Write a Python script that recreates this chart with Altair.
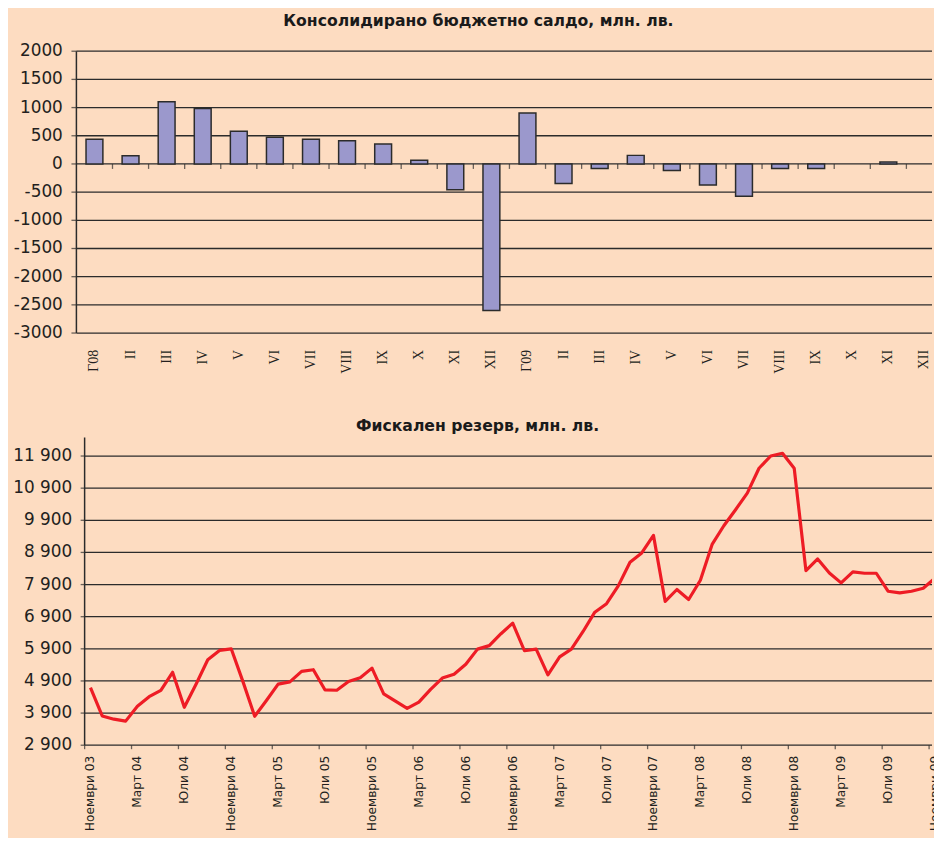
import altair as alt
import pandas as pd

# ---------------- data ----------------
budget_labels = ["Г08", "II", "III", "IV", "V", "VI", "VII", "VIII", "IX", "X", "XI", "XII",
                 "Г09", "II", "III", "IV", "V", "VI", "VII", "VIII", "IX", "X", "XI", "XII"]
budget_values = [440, 147, 1103, 985, 581, 475, 440, 410, 352, 65, -457, -2598,
                 903, -346, -82, 152, -117, -375, -575, -82, -82, None, 35, None]

# monthly fiscal reserve, Nov 2003 ... Nov 2009
reserve_values = [4690, 3810, 3710, 3650, 4110, 4410, 4610, 5170, 4080, 4800, 5560, 5850,
                  5900, 4880, 3800, 4290, 4800, 4870, 5200, 5250, 4620, 4610, 4880, 5000,
                  5300, 4500, 4270, 4045, 4240, 4640, 4990, 5110, 5420, 5890, 6000, 6370,
                  6700, 5840, 5890, 5090, 5650, 5890, 6440, 7040, 7305, 7860, 8594, 8883,
                  9430, 7375, 7746, 7436, 8035, 9150, 9730, 10230, 10744, 11519, 11902, 11985,
                  11519, 8334, 8696, 8262, 7952, 8293, 8252, 8252, 7693, 7641, 7693, 7786,
                  8100]
reserve_tick_labels = ["Ноември 03", "Март 04", "Юли 04", "Ноември 04", "Март 05", "Юли 05",
                       "Ноември 05", "Март 06", "Юли 06", "Ноември 06", "Март 07", "Юли 07",
                       "Ноември 07", "Март 08", "Юли 08", "Ноември 08", "Март 09", "Юли 09",
                       "Ноември 09"]

budget_ticks = [-3000, -2500, -2000, -1500, -1000, -500, 0, 500, 1000, 1500, 2000]
reserve_ticks = [2900, 3900, 4900, 5900, 6900, 7900, 8900, 9900, 10900, 11900]

TITLE_TOP = "Консолидирано бюджетно салдо, млн. лв."
TITLE_BOTTOM = "Фискален резерв, млн. лв."

BG = "#FDDCC1"
INK = "#231f20"
GRID = "#2b2b2b"

# ---------------- tables ----------------
n_b = len(budget_labels)
bars = pd.DataFrame({
    "center": [i + 0.5 for i in range(n_b)],
    "label": budget_labels,
    "value": budget_values,
    "base": [0] * n_b,
})
zero_ticks = pd.DataFrame({"b": list(range(1, n_b))})
tgrid = pd.DataFrame({"v": budget_ticks, "txt": [str(v) for v in budget_ticks],
                      "x1": [0] * len(budget_ticks), "x2": [23.71] * len(budget_ticks)})

reserve = pd.DataFrame({"m": list(range(len(reserve_values))), "v": reserve_values})
rgrid = pd.DataFrame({"v": reserve_ticks,
                      "txt": [f"{v:,}".replace(",", " ") for v in reserve_ticks],
                      "x1": [-0.5] * len(reserve_ticks),
                      "x2": [71.75] * len(reserve_ticks)})
rlabels = pd.DataFrame({"m": [4 * k for k in range(len(reserve_tick_labels))],
                        "b": [4 * k - 0.5 for k in range(len(reserve_tick_labels))],
                        "txt": reserve_tick_labels})
one = pd.DataFrame({"t": [TITLE_BOTTOM]})

# ---------------- scales ----------------
xt_scale = alt.Scale(domain=[0, 23.71], nice=False, zero=False, padding=0)
yt_scale = alt.Scale(domain=[-10312, 2000], nice=False, zero=False, padding=0)
xb_scale = alt.Scale(domain=[-1.2, 71.75], nice=False, zero=False, padding=0)
yb_scale = alt.Scale(domain=[2900, 24499], nice=False, zero=False, padding=0)

# ---------------- top panel ----------------
top_grid = alt.Chart(tgrid).mark_rule(color=GRID, strokeWidth=1.3).encode(
    x=alt.X("x1:Q", scale=xt_scale, axis=None),
    x2="x2:Q",
    y=alt.Y("v:Q", scale=yt_scale, axis=None),
)
top_ylabels = alt.Chart(tgrid).mark_text(align="right", baseline="middle", dx=-13.7,
                                         font="DejaVu Sans", fontSize=17, color=INK).encode(
    x=alt.X("x1:Q", axis=None),
    y=alt.Y("v:Q", axis=None),
    text="txt:N",
)
top_yticks = alt.Chart(tgrid).mark_tick(orient="horizontal", size=5, thickness=1.3,
                                        color=GRID, xOffset=-2.5).encode(
    x=alt.X("x1:Q", axis=None),
    y=alt.Y("v:Q", axis=None),
)
top_bars = alt.Chart(bars).mark_bar(width=17, fill="#9b98cc", stroke=GRID,
                                    strokeWidth=1.5).encode(
    x=alt.X("center:Q", axis=None),
    y=alt.Y("value:Q", axis=None),
    y2="base:Q",
)
top_axisline = alt.Chart(one).mark_rule(color=GRID, strokeWidth=1.5).encode(
    x=alt.datum(0, axis=None),
    y=alt.datum(-3000, axis=None),
    y2=alt.datum(2000),
)
top_zero_ticks = alt.Chart(zero_ticks).mark_tick(orient="vertical", size=5, thickness=1.3,
                                                  color=GRID, yOffset=2.5).encode(
    x=alt.X("b:Q", axis=None),
    y=alt.datum(0, axis=None),
)
top_xlabels = alt.Chart(bars).mark_text(angle=270, align="right", baseline="middle", dx=-17,
                                        font="Liberation Serif", fontSize=14,
                                        color=INK).encode(
    x=alt.X("center:Q", axis=None),
    y=alt.datum(-3000, axis=None),
    text="label:N",
)
top = alt.layer(top_grid, top_ylabels, top_yticks, top_bars, top_axisline,
                top_zero_ticks, top_xlabels)

# ---------------- bottom panel ----------------
bottom_grid = alt.Chart(rgrid).mark_rule(color=GRID, strokeWidth=1.3).encode(
    x=alt.X("x1:Q", scale=xb_scale, axis=None),
    x2="x2:Q",
    y=alt.Y("v:Q", scale=yb_scale, axis=None),
)
bottom_ylabels = alt.Chart(rgrid).mark_text(align="right", baseline="middle", dx=-12.6,
                                            font="DejaVu Sans", fontSize=17,
                                            color=INK).encode(
    x=alt.X("x1:Q", axis=None),
    y=alt.Y("v:Q", axis=None),
    text="txt:N",
)
bottom_yticks = alt.Chart(rgrid).mark_tick(orient="horizontal", size=4, thickness=1.3,
                                           color=GRID, xOffset=-2).encode(
    x=alt.X("x1:Q", axis=None),
    y=alt.Y("v:Q", axis=None),
)
bottom_axisline = alt.Chart(one).mark_rule(color=GRID, strokeWidth=1.5).encode(
    x=alt.datum(-0.5, axis=None),
    y=alt.datum(2900, axis=None),
    y2=alt.datum(12480),
)
bottom_xticks = alt.Chart(rlabels).mark_tick(orient="vertical", size=4, thickness=1.3,
                                             color=GRID, yOffset=2).encode(
    x=alt.X("b:Q", axis=None),
    y=alt.datum(2900, axis=None),
)
bottom_xlabels = alt.Chart(rlabels).mark_text(angle=270, align="right", baseline="middle",
                                              dx=-10.5, font="DejaVu Sans", fontSize=12.3,
                                              color=INK).encode(
    x=alt.X("m:Q", axis=None),
    y=alt.datum(2900, axis=None),
    text="txt:N",
)
bottom_line = alt.Chart(reserve).mark_line(color="#ee1c25", strokeWidth=3.2, clip=True,
                                           strokeJoin="round").encode(
    x=alt.X("m:Q", axis=None),
    y=alt.Y("v:Q", axis=None),
)
bottom_title = alt.Chart(one).mark_text(font="DejaVu Sans", fontWeight="bold", fontSize=15.8,
                                        color="#1a1a1a", dy=-11, baseline="middle").encode(
    x=alt.datum(33.0, axis=None),
    y=alt.datum(12480, axis=None),
    text="t:N",
)
bottom = alt.layer(bottom_grid, bottom_ylabels, bottom_yticks, bottom_axisline,
                   bottom_xticks, bottom_xlabels, bottom_line, bottom_title)

chart = alt.layer(top, bottom).resolve_scale(
    x="independent", y="independent"
).properties(
    width=863,
    height=700,
    autosize=alt.AutoSizeParams(type="none"),
    padding={"left": 69, "top": 40, "right": 2, "bottom": 90},
    background=BG,
    title=alt.TitleParams(TITLE_TOP, font="DejaVu Sans",
                          fontWeight="bold", fontSize=15.8, color="#1a1a1a",
                          anchor="middle", dx=-26, offset=13),
).configure_view(stroke=None)

chart.save("out.html", embed_options={"renderer": "svg", "actions": False})
